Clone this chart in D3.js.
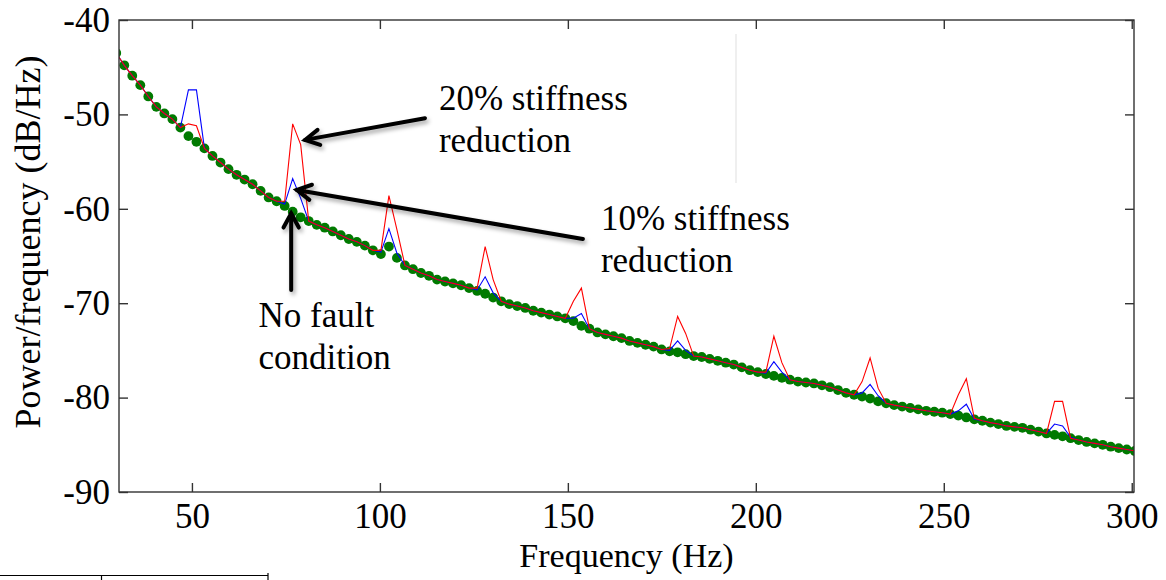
<!DOCTYPE html>
<html>
<head>
<meta charset="utf-8">
<script src="https://cdn.jsdelivr.net/npm/d3@7"></script>
<style>
  html, body { margin: 0; padding: 0; background: #fff; }
  svg { display: block; }
  text { font-family: "Liberation Serif", "Times New Roman", serif; fill: #000; }
</style>
</head>
<body>
<svg id="chart" width="1166" height="580"></svg>
<script>
// ---------------- DATA ----------------
const freqs = [
  29.87, 32.00, 34.13, 36.27, 38.40, 40.53, 42.67, 44.80, 46.93, 49.07,
  51.20, 53.33, 55.47, 57.60, 59.73, 61.87, 64.00, 66.13, 68.27, 70.40,
  72.53, 74.67, 76.80, 78.93, 81.07, 83.20, 85.33, 87.47, 89.60, 91.73,
  93.87, 96.00, 98.13, 100.27, 102.40, 104.53, 106.67, 108.80, 110.93, 113.07,
  115.20, 117.33, 119.47, 121.60, 123.73, 125.87, 128.00, 130.13, 132.27, 134.40,
  136.53, 138.67, 140.80, 142.93, 145.07, 147.20, 149.33, 151.47, 153.60, 155.73,
  157.87, 160.00, 162.13, 164.27, 166.40, 168.53, 170.67, 172.80, 174.93, 177.07,
  179.20, 181.33, 183.47, 185.60, 187.73, 189.87, 192.00, 194.13, 196.27, 198.40,
  200.53, 202.67, 204.80, 206.93, 209.07, 211.20, 213.33, 215.47, 217.60, 219.73,
  221.87, 224.00, 226.13, 228.27, 230.40, 232.53, 234.67, 236.80, 238.93, 241.07,
  243.20, 245.33, 247.47, 249.60, 251.73, 253.87, 256.00, 258.13, 260.27, 262.40,
  264.53, 266.67, 268.80, 270.93, 273.07, 275.20, 277.33, 279.47, 281.60, 283.73,
  285.87, 288.00, 290.13, 292.27, 294.40, 296.53, 298.67, 300.80
];

const noFault = [
  -43.5,-44.8,-45.9,-46.9,-48.1,-49.2,-49.9,-50.5,-51.4,-52.3,
  -52.9,-53.6,-54.4,-55.1,-55.8,-56.4,-56.9,-57.4,-58.1,-58.8,
  -59.2,-59.7,-60.3,-60.9,-61.3,-61.7,-62.0,-62.4,-62.8,-63.2,
  -63.5,-63.9,-64.4,-64.8,-64.0,-65.2,-66.0,-66.4,-66.8,-67.1,
  -67.5,-67.7,-67.9,-68.1,-68.4,-68.7,-69.0,-69.4,-69.8,-70.1,
  -70.3,-70.5,-70.8,-71.0,-71.2,-71.4,-71.6,-71.9,-72.4,-72.7,
  -73.1,-73.3,-73.5,-73.7,-74.0,-74.2,-74.4,-74.6,-74.9,-75.1,
  -75.2,-75.4,-75.6,-75.7,-75.9,-76.1,-76.3,-76.5,-76.8,-77.1,
  -77.3,-77.5,-77.7,-77.9,-78.1,-78.3,-78.4,-78.5,-78.7,-78.9,
  -79.2,-79.5,-79.7,-79.9,-80.1,-80.4,-80.6,-80.8,-80.95,-81.1,
  -81.25,-81.4,-81.5,-81.6,-81.75,-81.9,-82.1,-82.3,-82.45,-82.65,
  -82.8,-83.0,-83.1,-83.2,-83.4,-83.6,-83.8,-83.95,-84.1,-84.3,
  -84.5,-84.7,-84.85,-85.0,-85.2,-85.35,-85.5,-85.65
];

const stiff10 = [
  -43.5,-44.8,-45.9,-46.9,-48.1,-49.2,-49.9,-50.5,-51.4,-47.4,
  -47.4,-53.6,-54.4,-55.1,-55.8,-56.4,-56.9,-57.4,-58.1,-58.8,
  -59.2,-59.5,-56.8,-58.9,-61.3,-61.7,-62.0,-62.4,-62.8,-63.2,
  -63.5,-63.9,-64.4,-64.6,-62.1,-64.7,-66.0,-66.4,-66.8,-67.1,
  -67.5,-67.7,-67.9,-68.1,-68.4,-68.6,-67.2,-68.9,-69.8,-70.1,
  -70.3,-70.5,-70.8,-71.0,-71.2,-71.4,-71.6,-71.6,-71.1,-72.7,
  -73.1,-73.3,-73.5,-73.7,-74.0,-74.2,-74.4,-74.6,-74.9,-75.0,
  -74.0,-75.0,-75.6,-75.7,-75.9,-76.1,-76.3,-76.5,-76.8,-77.1,
  -77.3,-77.4,-76.2,-77.3,-78.1,-78.3,-78.4,-78.5,-78.7,-78.9,
  -79.2,-79.5,-79.7,-79.5,-78.6,-79.8,-80.6,-80.8,-80.95,-81.1,
  -81.25,-81.4,-81.5,-81.6,-81.75,-81.4,-80.7,-82.3,-82.45,-82.65,
  -82.8,-83.0,-83.1,-83.2,-83.4,-83.6,-83.8,-82.8,-83.0,-84.2,
  -84.5,-84.7,-84.85,-85.0,-85.2,-85.35,-85.5,-85.65
];

const stiff20 = [
  -43.5,-44.8,-45.9,-46.9,-48.1,-49.2,-49.9,-50.5,-51.4,-51.0,
  -51.2,-53.6,-54.4,-55.1,-55.8,-56.4,-56.9,-57.4,-58.1,-58.8,
  -59.2,-59.2,-51.0,-53.2,-61.3,-61.7,-62.0,-62.4,-62.8,-63.2,
  -63.5,-63.9,-64.4,-64.4,-58.6,-62.2,-66.0,-66.4,-66.8,-67.1,
  -67.5,-67.7,-67.9,-68.1,-68.4,-68.4,-64.0,-67.5,-69.8,-70.1,
  -70.3,-70.5,-70.8,-71.0,-71.2,-71.4,-71.6,-69.8,-68.4,-72.7,
  -73.1,-73.3,-73.5,-73.7,-74.0,-74.2,-74.4,-74.6,-74.9,-74.8,
  -71.4,-73.2,-75.6,-75.7,-75.9,-76.1,-76.3,-76.5,-76.8,-77.1,
  -77.3,-77.3,-73.5,-76.3,-78.1,-78.3,-78.4,-78.5,-78.7,-78.9,
  -79.2,-79.5,-79.7,-78.3,-75.8,-79.0,-80.6,-80.8,-80.95,-81.1,
  -81.25,-81.4,-81.5,-81.6,-81.75,-79.7,-78.0,-82.2,-82.45,-82.65,
  -82.8,-83.0,-83.1,-83.2,-83.4,-83.6,-83.8,-80.4,-80.4,-84.3,
  -84.5,-84.7,-84.85,-85.0,-85.2,-85.35,-85.5,-85.65
];

const xTicks = [50, 100, 150, 200, 250, 300];
const yTicks = [-40, -50, -60, -70, -80, -90];
const xLabel = "Frequency (Hz)";
const yLabel = "Power/frequency (dB/Hz)";

// annotations in data coordinates [freq, dB]
const notes = [
  { lines: ["20% stiffness", "reduction"], at: [115.7, -49.5] },
  { lines: ["10% stiffness", "reduction"], at: [158.8, -62.2] },
  { lines: ["No fault", "condition"], at: [67.7, -72.5] }
];
const arrows = [
  { from: [112.0, -50.4], to: [80.1, -52.7] },
  { from: [154.0, -63.2], to: [77.9, -58.0] },
  { from: [76.4, -68.6], to: [76.4, -60.5] }
];

// ---------------- LAYOUT ----------------
const svg = d3.select("#chart");
const L = 119, R = 1134, T = 20, B = 492;
const x = d3.scaleLinear().domain([30.6, 300.6]).range([L, R]);
const y = d3.scaleLinear().domain([-90, -40]).range([B, T]);

const defs = svg.append("defs");
defs.append("clipPath").attr("id", "plotclip")
  .append("rect").attr("x", L).attr("y", T).attr("width", R - L).attr("height", B - T);
const f = defs.append("filter").attr("id", "shadow")
  .attr("x", "-20%").attr("y", "-20%").attr("width", "140%").attr("height", "160%");
f.append("feDropShadow").attr("dx", 2).attr("dy", 3).attr("stdDeviation", 2)
  .attr("flood-color", "#000").attr("flood-opacity", 0.35);

// faint artifact line
svg.append("line").attr("x1", 736).attr("x2", 736).attr("y1", 34).attr("y2", 183)
  .attr("stroke", "#efefef").attr("stroke-width", 2);

// data
const plot = svg.append("g").attr("clip-path", "url(#plotclip)");
const pts = arr => freqs.map((fr, i) => [fr, arr[i]]);
const line = d3.line().x(d => x(d[0])).y(d => y(d[1]));

plot.selectAll("circle.nf").data(pts(noFault)).join("circle")
  .attr("class", "nf")
  .attr("cx", d => x(d[0])).attr("cy", d => y(d[1])).attr("r", 4.9)
  .attr("fill", "#007a00");

plot.append("path").datum(pts(stiff10)).attr("d", line)
  .attr("fill", "none").attr("stroke", "#0000ff").attr("stroke-width", 1.1);
plot.append("path").datum(pts(stiff20)).attr("d", line)
  .attr("fill", "none").attr("stroke", "#ff0000").attr("stroke-width", 1.1);

// axes
const fontSize = 35;
const fmt = d => String(d);
const axB = svg.append("g").attr("transform", `translate(0,${B})`)
  .call(d3.axisBottom(x).tickValues(xTicks).tickSize(-9).tickSizeOuter(0).tickPadding(11).tickFormat(fmt));
const axL = svg.append("g").attr("transform", `translate(${L},0)`)
  .call(d3.axisLeft(y).tickValues(yTicks).tickSize(-9).tickSizeOuter(0).tickPadding(9).tickFormat(fmt));
const axT = svg.append("g").attr("transform", `translate(0,${T})`)
  .call(d3.axisTop(x).tickValues(xTicks).tickSize(-9).tickSizeOuter(0).tickFormat(""));
const axR = svg.append("g").attr("transform", `translate(${R},0)`)
  .call(d3.axisRight(y).tickValues(yTicks).tickSize(-9).tickSizeOuter(0).tickFormat(""));
[axB, axL, axT, axR].forEach(a => {
  a.select(".domain").remove();
  a.selectAll(".tick line").attr("stroke", "#333").attr("stroke-width", 1.4);
  a.selectAll(".tick text").attr("font-size", fontSize)
    .attr("font-family", "'Liberation Serif', 'Times New Roman', serif").attr("fill", "#000");
});

svg.append("rect").attr("x", L).attr("y", T).attr("width", R - L).attr("height", B - T)
  .attr("fill", "none").attr("stroke", "#333").attr("stroke-width", 1.4);

// axis titles
svg.append("text").attr("x", (L + R) / 2).attr("y", 567).attr("text-anchor", "middle")
  .attr("font-size", 34).text(xLabel);
svg.append("text").attr("transform", `translate(40,${242}) rotate(-90)`)
  .attr("text-anchor", "middle").attr("font-size", 36).text(yLabel);

// annotations
notes.forEach(n => {
  n.lines.forEach((t, i) => {
    svg.append("text").attr("x", x(n.at[0])).attr("y", y(n.at[1]) + i * 42)
      .attr("font-size", 35).text(t);
  });
});

const ag = svg.append("g").attr("filter", "url(#shadow)");
arrows.forEach(a => {
  const x1 = x(a.from[0]), y1 = y(a.from[1]), x2 = x(a.to[0]), y2 = y(a.to[1]);
  const ang = Math.atan2(y1 - y2, x1 - x2);
  const len = 16, spread = 0.5;
  const h1 = [x2 + len * Math.cos(ang + spread), y2 + len * Math.sin(ang + spread)];
  const h2 = [x2 + len * Math.cos(ang - spread), y2 + len * Math.sin(ang - spread)];
  ag.append("line").attr("x1", x1).attr("y1", y1).attr("x2", x2).attr("y2", y2)
    .attr("stroke", "#000").attr("stroke-width", 4).attr("stroke-linecap", "round");
  ag.append("path").attr("d", `M${h1[0]},${h1[1]}L${x2},${y2}L${h2[0]},${h2[1]}`)
    .attr("fill", "none").attr("stroke", "#000").attr("stroke-width", 4)
    .attr("stroke-linejoin", "miter").attr("stroke-linecap", "round");
});

// table fragment at bottom-left
const tb = svg.append("g").attr("stroke", "#000").attr("stroke-width", 1.2);
tb.append("line").attr("x1", 0).attr("x2", 268).attr("y1", 575.5).attr("y2", 575.5);
tb.append("line").attr("x1", 101.5).attr("x2", 101.5).attr("y1", 575).attr("y2", 580);
tb.append("line").attr("x1", 268).attr("x2", 268).attr("y1", 573).attr("y2", 580);
</script>
</body>
</html>
